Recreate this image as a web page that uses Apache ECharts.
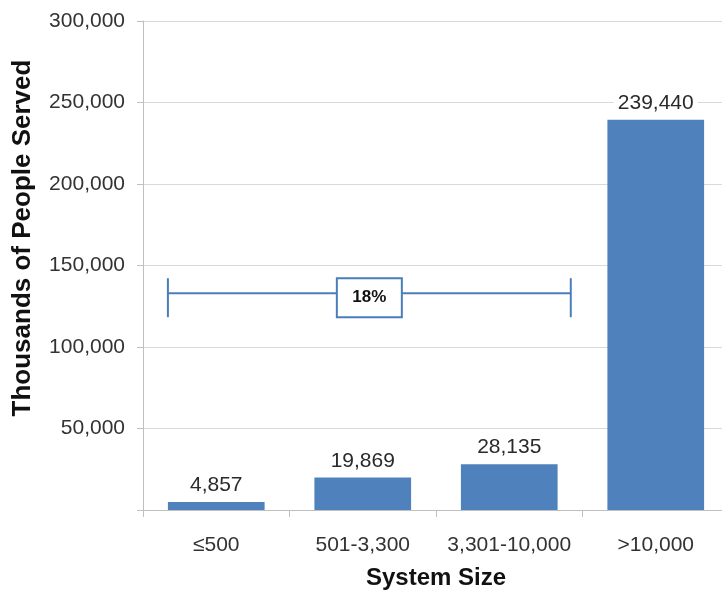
<!DOCTYPE html>
<html>
<head>
<meta charset="utf-8">
<script src="https://cdn.jsdelivr.net/npm/echarts@6/dist/echarts.min.js"></script>
<style>
html,body{margin:0;padding:0;background:#fff;}
#chart{width:722px;height:590px;}
</style>
</head>
<body>
<div id="chart"></div>
<script>
var categories = ['≤500', '501-3,300', '3,301-10,000', '>10,000'];
var peopleServed = [4857, 19869, 28135, 239440];
var yTicks = [0, 50000, 100000, 150000, 200000, 250000, 300000];
var bracketFrom = -0.33;   // category-position of bracket left end
var bracketTo = 2.42;      // category-position of bracket right end
var bracketValue = 133000;
var bracketLabel = '18%';

var FONT = 'Liberation Sans, Arial, sans-serif';
var BLUE = '#4f81bd';
var LINEBLUE = '#4a7ebb';

var chart = echarts.init(document.getElementById('chart'));
chart.setOption({
  animation: false,
  grid: { left: 143, top: 21, width: 586, bottom: 80, containLabel: false, outerBoundsMode: 'none' },
  xAxis: [{
    type: 'category',
    data: categories,
    axisLine: { onZero: false, lineStyle: { color: '#bfbfbf', width: 1 } },
    axisTick: { show: true, length: 7, interval: 0, alignWithLabel: false, lineStyle: { color: '#bfbfbf' } },
    axisLabel: { interval: 0, fontFamily: FONT, fontSize: 21, color: '#333', margin: 25 },
    name: 'System Size',
    nameLocation: 'middle',
    nameGap: 56,
    nameTextStyle: { fontFamily: FONT, fontSize: 24, fontWeight: 'bold', color: '#111' }
  }, {
    type: 'value',
    min: -0.5, max: 3.5,
    show: false,
    position: 'bottom'
  }],
  yAxis: {
    type: 'value',
    min: yTicks[0],
    max: yTicks[yTicks.length - 1],
    interval: yTicks[1] - yTicks[0],
    axisLine: { show: true, onZero: false, lineStyle: { color: '#bfbfbf', width: 1 } },
    axisTick: { show: true, length: 6, lineStyle: { color: '#bfbfbf' } },
    splitLine: { show: true, lineStyle: { color: '#d9d9d9', width: 1 } },
    axisLabel: {
      fontFamily: FONT, fontSize: 21, color: '#333', margin: 18,
      formatter: function (v) { return v === 0 ? '' : v.toLocaleString('en-US'); }
    }
  },
  graphic: [{
    type: 'text',
    x: 23, y: 238,
    rotation: Math.PI / 2,
    style: {
      text: 'Thousands of People Served',
      font: 'bold 26px ' + FONT,
      fill: '#111',
      align: 'center',
      verticalAlign: 'middle'
    }
  }],
  series: [{
    type: 'bar',
    data: peopleServed,
    barWidth: '66%',
    itemStyle: { color: BLUE },
    label: {
      show: true,
      position: 'top',
      distance: 6,
      fontFamily: FONT,
      fontSize: 21,
      color: '#2a2a2a',
      backgroundColor: '#fff',
      padding: [0, 4],
      formatter: function (p) { return p.value.toLocaleString('en-US'); }
    }
  }, {
    type: 'custom',
    xAxisIndex: 1,
    data: [[bracketFrom, bracketTo, bracketValue]],
    renderItem: function (params, api) {
      var a = api.coord([api.value(0), api.value(2)]);
      var b = api.coord([api.value(1), api.value(2)]);
      var y = a[1];
      var cx = (a[0] + b[0]) / 2;
      var top = y - 15, bot = y + 24;
      var bw = 65;
      var ls = { stroke: LINEBLUE, lineWidth: 2 };
      return {
        type: 'group',
        children: [
          { type: 'line', shape: { x1: a[0], y1: y, x2: b[0], y2: y }, style: ls },
          { type: 'line', shape: { x1: a[0], y1: top, x2: a[0], y2: bot }, style: ls },
          { type: 'line', shape: { x1: b[0], y1: top, x2: b[0], y2: bot }, style: ls },
          { type: 'rect', shape: { x: cx - bw / 2, y: top, width: bw, height: bot - top },
            style: { fill: '#fff', stroke: LINEBLUE, lineWidth: 2 } },
          { type: 'text', x: cx, y: (top + bot) / 2,
            style: { text: bracketLabel, font: 'bold 17px ' + FONT, fill: '#111', align: 'center', verticalAlign: 'middle' } }
        ]
      };
    }
  }]
});
</script>
</body>
</html>
